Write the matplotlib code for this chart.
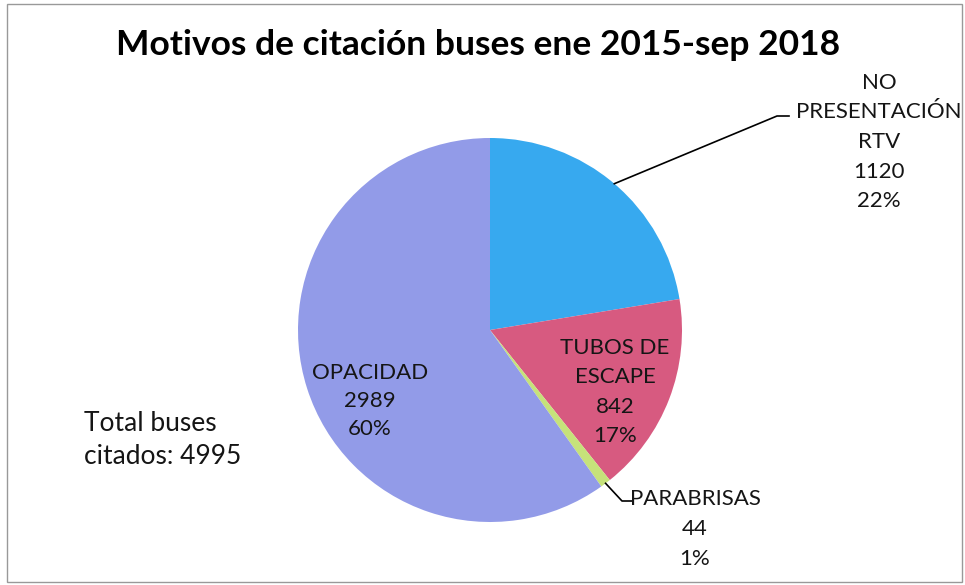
import numpy as np
import matplotlib.pyplot as plt
from matplotlib.patches import Rectangle

# data
categories = ['NO\nPRESENTACIÓN\nRTV', 'TUBOS DE\nESCAPE', 'PARABRISAS', 'OPACIDAD']
counts = [1120, 842, 44, 2989]
percents = [22, 17, 1, 60]
total_buses = 4995
colors = ['#37A9EF', '#D75A80', '#C6E27A', '#929BE8']

plt.rcParams['font.family'] = ['Lato', 'DejaVu Sans']

W, H = 965, 585
fig = plt.figure(figsize=(W / 100, H / 100), dpi=100)

# pie centre (490, 330) px, radius 192 px
cx, cy, R = 490, 330, 192
ax = fig.add_axes([(cx - R) / W, (H - cy - R) / H, 2 * R / W, 2 * R / H])
wedges, _ = ax.pie(counts, colors=colors, startangle=90, counterclock=False,
                   radius=1, wedgeprops=dict(linewidth=0))
ax.set_xlim(-1, 1)
ax.set_ylim(-1, 1)
ax.set_aspect('equal')
ax.axis('off')


def px(x, y):
    # pixel position of the figure -> data coords of the pie axes
    return (x - cx) / R, (cy - y) / R


labels = ['%s\n%d\n%d%%' % (c, n, p) for c, n, p in zip(categories, counts, percents)]
fs = 16
ls = 1.6
tc = '#151515'

# inside labels
ax.text(*px(615, 392), labels[1], ha='center', va='center', fontsize=fs,
        linespacing=ls, color=tc)
ax.text(*px(370, 401), labels[3], ha='center', va='center', fontsize=fs,
        linespacing=1.5, color=tc)

# outside labels with leader lines
def leader(w, elbow, end):
    ang = np.deg2rad((w.theta1 + w.theta2) / 2)
    x0, y0 = np.cos(ang), np.sin(ang)
    ex, ey = px(*elbow)
    fx, fy = px(*end)
    ax.plot([x0, ex, fx], [y0, ey, fy], color='black', lw=1.2, clip_on=False)


leader(wedges[0], (777, 116), (789, 116))
ax.text(*px(879, 142), labels[0], ha='center', va='center', fontsize=fs,
        linespacing=ls, color=tc, clip_on=False)

leader(wedges[2], (622, 501), (632, 501))
ax.text(*px(695, 529), labels[2], ha='center', va='center', fontsize=fs,
        linespacing=ls, color=tc, clip_on=False)

fig.text(478 / W, 1 - 45 / H, 'Motivos de citación buses ene 2015-sep 2018',
         ha='center', va='center', fontsize=25.5, fontweight='bold')
fig.text(84 / W, 1 - 440 / H, 'Total buses\ncitados: %d' % total_buses,
         ha='left', va='center', fontsize=19, linespacing=1.43, color=tc)

fig.patches.append(Rectangle((7 / W, 3 / H), 955 / W, 578 / H, transform=fig.transFigure,
                             fill=False, edgecolor='#999999', lw=1))

fig.savefig('out.png', dpi=100)
